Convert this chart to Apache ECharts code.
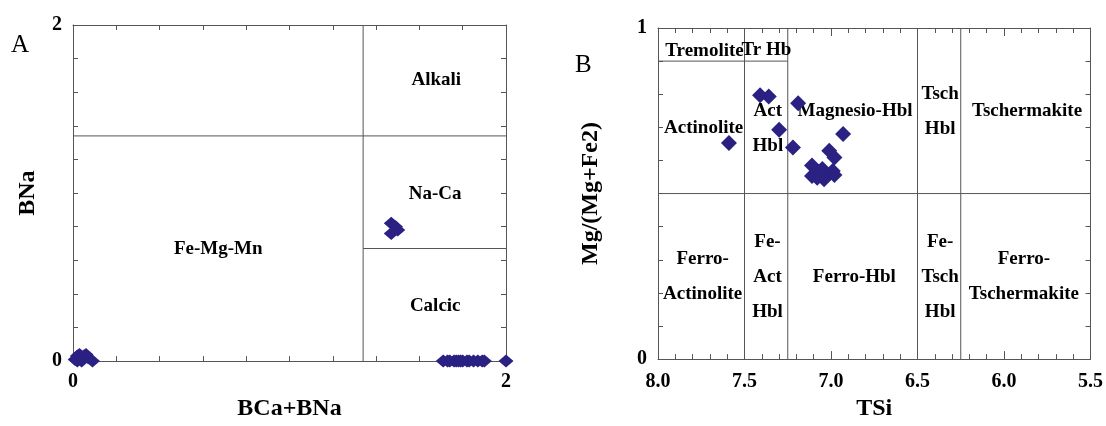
<!DOCTYPE html>
<html>
<head>
<meta charset="utf-8">
<script src="https://cdn.jsdelivr.net/npm/echarts@6/dist/echarts.min.js"></script>
<style>
  html, body { margin: 0; padding: 0; background: #fff; }
  #main { width: 1106px; height: 426px; }
</style>
</head>
<body>
<div id="main"></div>
<script>
// ---- panel A : BCa+BNa vs BNa ----
const fmmA = [[0.01, 0.01], [0.02, 0.03], [0.03, 0.04], [0.05, 0.03], [0.06, 0.04], [0.07, 0.02], [0.09, 0.0], [0.04, 0.0], [0.02, 0.0]];
const naCaA = [[1.47, 0.82], [1.49, 0.80], [1.50, 0.78], [1.47, 0.76]];
const calcicA = [[1.71, 0], [1.73, 0], [1.74, 0], [1.76, 0], [1.77, 0], [1.78, 0], [1.79, 0], [1.80, 0],
                 [1.82, 0], [1.83, 0], [1.85, 0], [1.87, 0], [1.89, 0], [1.90, 0], [2.00, 0]];
const boundsA = [
    [[1.34, 0], [1.34, 2]],
    [[0, 1.34], [2, 1.34]],
    [[1.34, 0.67], [2, 0.67]]
];
const fieldsA = ['Alkali', 'Na-Ca', 'Calcic', 'Fe-Mg-Mn'];
const fieldPosA = [[1.678, 1.67], [1.673, 0.995], [1.673, 0.327], [0.671, 0.666]];
const ticksAx = ['0', '2'];
const ticksAy = ['0', '2'];

// ---- panel B : TSi vs Mg/(Mg+Fe2) ----
const tsiB = [7.59, 7.41, 7.36, 7.30, 7.22, 7.19, 6.93, 7.01, 6.98, 7.11, 7.11, 7.07, 7.05, 7.04, 7.02, 6.99, 6.98, 7.08];
const mgB  = [0.653, 0.797, 0.793, 0.693, 0.639, 0.773, 0.680, 0.629, 0.609, 0.585, 0.553, 0.566, 0.574, 0.543, 0.556, 0.568, 0.556, 0.548];
const boundsB = [
    [[8, 0.9], [7.25, 0.9]],
    [[7.5, 0], [7.5, 1]],
    [[7.25, 0], [7.25, 1]],
    [[6.5, 0], [6.5, 1]],
    [[6.25, 0], [6.25, 1]],
    [[8, 0.5], [5.5, 0.5]]
];
const fieldsB = ['Tremolite', 'Tr Hb', 'Actinolite', 'Act\nHbl', 'Magnesio-Hbl', 'Tsch\nHbl', 'Tschermakite',
                 'Ferro-\nActinolite', 'Fe-\nAct\nHbl', 'Ferro-Hbl', 'Fe-\nTsch\nHbl', 'Ferro-\nTschermakite'];
const fieldPosB = [[7.731, 0.931], [7.373, 0.933], [7.736, 0.699], [7.365, 0.697], [6.861, 0.748], [6.369, 0.748], [5.867, 0.748],
                   [7.742, 0.248], [7.367, 0.247], [6.865, 0.247], [6.369, 0.247], [5.885, 0.248]];
const ticksBx = ['8.0', '7.5', '7.0', '6.5', '6.0', '5.5'];
const ticksBy = ['0', '1'];

const FONT = 'Liberation Serif';
const INK = '#000';
const LINE = '#555';
const MARK = '#2a2183';

function fmt(list, digits) {
    return function (v) {
        const s = digits ? v.toFixed(digits) : String(Math.round(v * 1000) / 1000);
        return list.indexOf(s) >= 0 ? s : '';
    };
}

function valAxis(grid, pos, min, max, interval, extra) {
    const ax = {
        type: 'value', gridIndex: grid, position: pos, min: min, max: max, interval: interval,
        axisLine: { show: true, onZero: false, lineStyle: { color: LINE, width: 1 } },
        axisTick: { show: true, inside: true, length: 5, lineStyle: { color: LINE } },
        splitLine: { show: false },
        axisLabel: { show: false }
    };
    return Object.assign(ax, extra || {});
}

const labelStyle = { fontFamily: FONT, fontWeight: 'bold', fontSize: 20, color: INK };
const nameStyle = { fontFamily: FONT, fontWeight: 'bold', fontSize: 24, color: INK };

const xAxes = [
    valAxis(0, 'bottom', 0, 2, 0.2, {
        name: 'BCa+BNa', nameLocation: 'middle', nameGap: 28, nameTextStyle: nameStyle,
        axisLabel: Object.assign({ show: true, margin: 11, formatter: fmt(ticksAx) }, labelStyle)
    }),
    valAxis(0, 'top', 0, 2, 0.2),
    valAxis(1, 'bottom', 5.5, 8, 0.5, {
        inverse: true,
        axisTick: { show: true, inside: true, length: 8, lineStyle: { color: LINE } },
        minorTick: { show: true, splitNumber: 5, length: 5, lineStyle: { color: LINE } },
        name: 'TSi', nameLocation: 'middle', nameGap: 30, nameTextStyle: nameStyle,
        axisLabel: Object.assign({ show: true, margin: 13, formatter: fmt(ticksBx, 1) }, labelStyle)
    }),
    valAxis(1, 'top', 5.5, 8, 0.5, {
        inverse: true,
        axisTick: { show: true, inside: true, length: 8, lineStyle: { color: LINE } },
        minorTick: { show: true, splitNumber: 5, length: 5, lineStyle: { color: LINE } }
    })
];

const yAxes = [
    valAxis(0, 'left', 0, 2, 0.2, {
        name: 'BNa', nameLocation: 'middle', nameGap: 33, nameTextStyle: nameStyle,
        axisLabel: Object.assign({ show: true, margin: 11, formatter: fmt(ticksAy) }, labelStyle)
    }),
    valAxis(0, 'right', 0, 2, 0.2),
    valAxis(1, 'left', 0, 1, 0.1, {
        name: 'Mg/(Mg+Fe2)', nameLocation: 'middle', nameGap: 55, nameTextStyle: nameStyle,
        axisLabel: Object.assign({ show: true, margin: 11, formatter: fmt(ticksBy) }, labelStyle)
    }),
    valAxis(1, 'right', 0, 1, 0.1)
];

const series = [];

function addBounds(list, xi, yi) {
    list.forEach(function (seg) {
        series.push({
            type: 'line', xAxisIndex: xi, yAxisIndex: yi, data: seg, symbol: 'none', silent: true,
            lineStyle: { color: LINE, width: 1 }, z: 1, animation: false
        });
    });
}

function addFields(names, pos, xi, yi, lh) {
    series.push({
        type: 'scatter', xAxisIndex: xi, yAxisIndex: yi, symbolSize: 0, silent: true, z: 3,
        itemStyle: { opacity: 1 },
        data: names.map(function (n, i) { return { name: n, value: pos[i] }; }),
        label: {
            show: true, position: 'inside', formatter: function (p) { return p.name; },
            fontFamily: FONT, fontWeight: 'bold', fontSize: 19, color: INK, lineHeight: lh, align: 'center',
            textBorderWidth: 0
        }
    });
}

function addPoints(data, xi, yi, size) {
    series.push({
        type: 'scatter', xAxisIndex: xi, yAxisIndex: yi, data: data, symbol: 'diamond',
        symbolSize: size, itemStyle: { color: MARK, opacity: 1 }, z: 4, clip: false
    });
}

addBounds(boundsA, 0, 0);
addBounds(boundsB, 2, 2);
addFields(fieldsA, fieldPosA, 0, 0, 24);
addFields(fieldsB, fieldPosB, 2, 2, 35);
addPoints(fmmA, 0, 0, [15, 13]);
addPoints(naCaA, 0, 0, [15, 13]);
addPoints(calcicA, 0, 0, [15, 13]);
addPoints(tsiB.map(function (t, i) { return [t, mgB[i]]; }), 2, 2, [16, 16]);

const option = {
    backgroundColor: '#fff',
    animation: false,
    grid: [
        { left: 73, top: 25, width: 433, height: 338 },
        { left: 658, top: 28, width: 434, height: 338 }
    ],
    xAxis: xAxes,
    yAxis: yAxes,
    graphic: [
        { type: 'text', left: 11, top: 33, style: { text: 'A', fontFamily: FONT, fontSize: 25, fill: INK } },
        { type: 'text', left: 575, top: 53, style: { text: 'B', fontFamily: FONT, fontSize: 25, fill: INK } }
    ],
    series: series
};

const myChart = echarts.init(document.getElementById('main'), null, { renderer: 'canvas' });
myChart.setOption(option);
</script>
</body>
</html>
